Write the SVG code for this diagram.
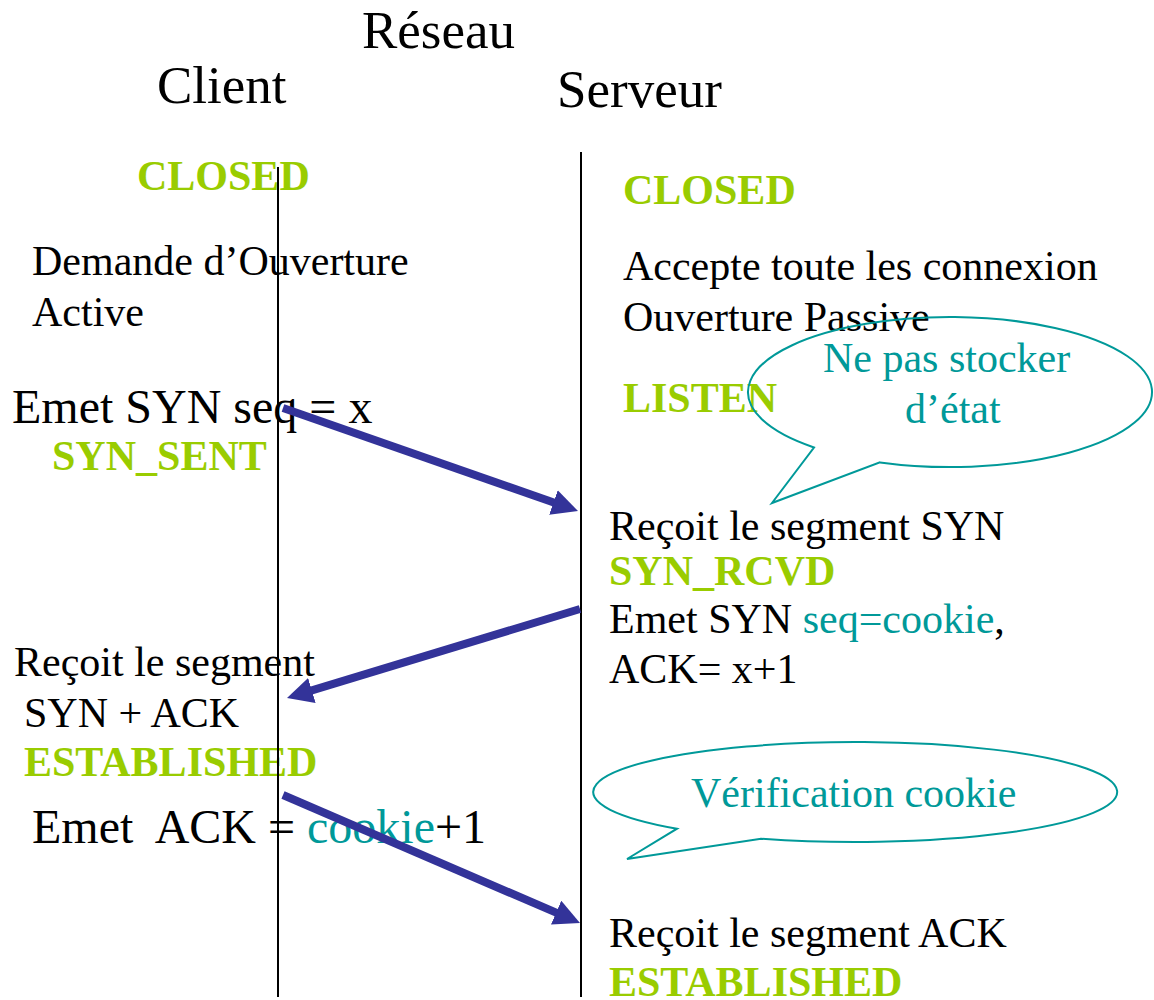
<svg xmlns="http://www.w3.org/2000/svg" width="1154" height="1000" viewBox="0 0 1154 1000">
  <style>
    text { font-family: "Liberation Serif", "Times New Roman", serif; font-size: 42px; fill: #000; }
    .title { font-size: 53px; }
    .big { font-size: 48px; }
    .state { font-weight: bold; fill: #99CC00; }
    .teal { fill: #009999; }
    .life { stroke: #000; stroke-width: 2; fill: none; }
    .bubble { stroke: #009999; stroke-width: 2; fill: none; }
    .msg { stroke: #333399; stroke-width: 8; fill: none; marker-end: url(#head); }
  </style>
  <defs>
    <marker id="head" viewBox="0 0 10 10" markerWidth="3.25" markerHeight="3.25" refX="1" refY="5" orient="auto" markerUnits="strokeWidth">
      <path d="M0,0 L10,5 L0,10 z" fill="#333399"/>
    </marker>
  </defs>

  <!-- column headings -->
  <g id="heading-reseau"><text class="title" x="362" y="48">Réseau</text></g>
  <g id="heading-client"><text class="title" x="157" y="103">Client</text></g>
  <g id="heading-serveur"><text class="title" x="557" y="107">Serveur</text></g>

  <!-- client side -->
  <g id="client-closed"><text class="state" x="137" y="190">CLOSED</text></g>
  <g id="client-open-request">
    <text x="32" y="275">Demande d’Ouverture</text>
    <text x="32" y="326">Active</text>
  </g>
  <g id="client-send-syn">
    <text class="big" x="12" y="423">Emet SYN seq = x</text>
    <text class="state" x="52" y="470">SYN_SENT</text>
  </g>
  <g id="client-recv-synack">
    <text x="14" y="676">Reçoit le segment</text>
    <text x="24" y="727">SYN + ACK</text>
    <text class="state" x="24" y="776">ESTABLISHED</text>
  </g>
  <g id="client-send-ack">
    <text class="big" x="32" y="843" xml:space="preserve">Emet  ACK = <tspan class="teal">cookie</tspan>+1</text>
  </g>

  <!-- server side -->
  <g id="server-closed"><text class="state" x="623" y="204">CLOSED</text></g>
  <g id="server-passive-open">
    <text x="623" y="280">Accepte toute les connexion</text>
    <text x="623" y="331">Ouverture Passive</text>
    <text class="state" x="623" y="412">LISTEN</text>
  </g>
  <g id="server-recv-syn">
    <text x="609" y="540">Reçoit le segment SYN</text>
    <text class="state" x="609" y="585">SYN_RCVD</text>
    <text x="609" y="633">Emet SYN <tspan class="teal">seq=cookie</tspan>,</text>
    <text x="609" y="683">ACK= x+1</text>
  </g>
  <g id="server-recv-ack">
    <text x="609" y="947">Reçoit le segment ACK</text>
    <text class="state" x="609" y="996">ESTABLISHED</text>
  </g>

  <!-- callouts: ellipse with a wedge tail -->
  <g id="note-stateless">
    <path class="bubble" d="M880,462.4 A202 75 0 1 0 814,447.5 L772,503 Z"/>
    <text class="teal" x="823" y="372">Ne pas stocker</text>
    <text class="teal" x="905" y="423">d’état</text>
  </g>
  <g id="note-cookie-check">
    <path class="bubble" d="M761,838.7 A262 50 0 1 0 677,828.7 L627,859 Z"/>
    <text class="teal" x="691" y="807">Vérification cookie</text>
  </g>

  <!-- lifelines -->
  <g id="lifeline-client"><line class="life" x1="278" y1="167" x2="278" y2="997"/></g>
  <g id="lifeline-server"><line class="life" x1="581" y1="152" x2="581" y2="997"/></g>

  <!-- messages -->
  <g id="connectors">
    <line class="msg" x1="283" y1="408" x2="555.9" y2="503.3"/>
    <line class="msg" x1="580" y1="609" x2="309.4" y2="691.2"/>
    <line class="msg" x1="283" y1="795" x2="558.5" y2="913.7"/>
  </g>
</svg>
